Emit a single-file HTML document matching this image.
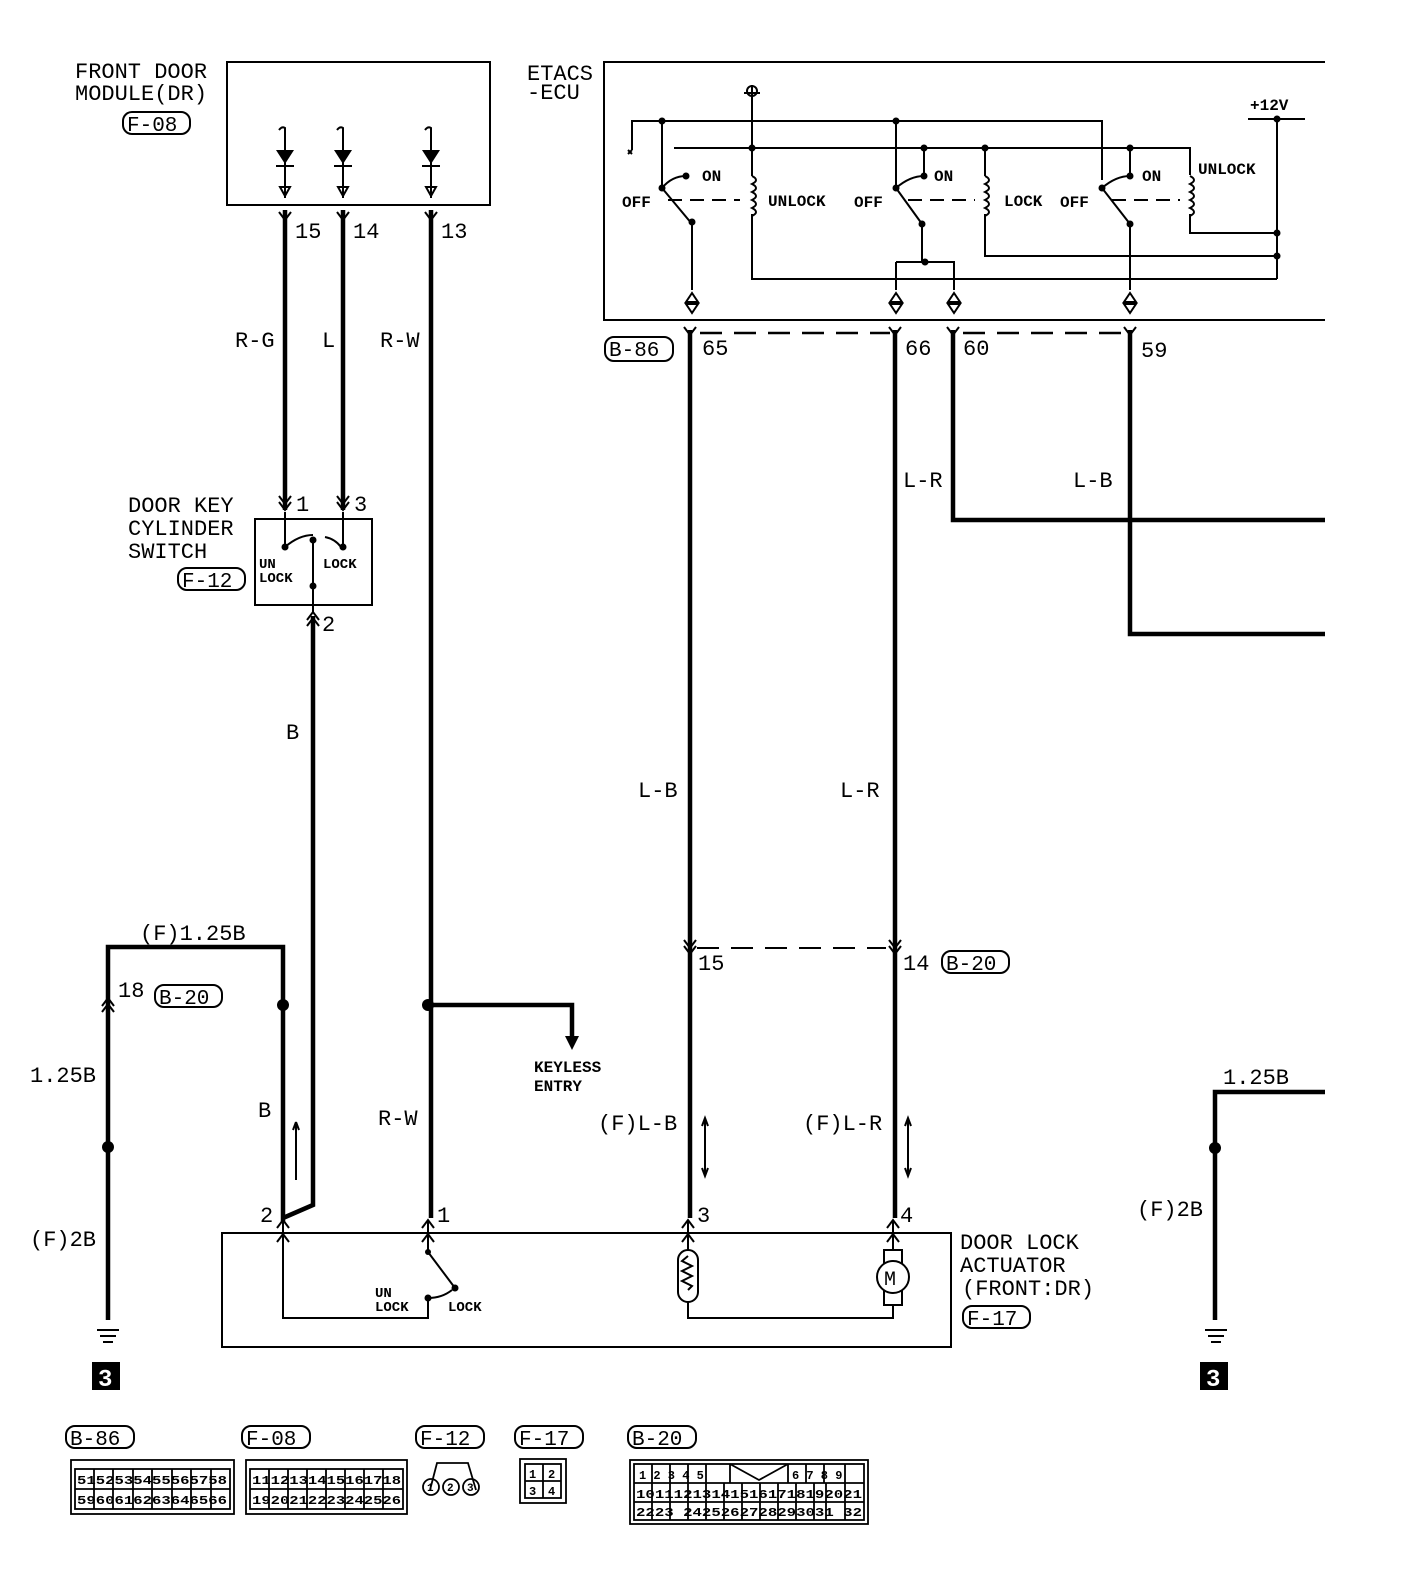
<!DOCTYPE html>
<html><head><meta charset="utf-8"><style>
html,body{margin:0;padding:0;background:#fff}
svg{display:block}
text{font-family:"Liberation Mono",monospace;fill:#000}
</style></head><body>
<svg width="1408" height="1594" viewBox="0 0 1408 1594" xmlns="http://www.w3.org/2000/svg">
<g fill="none" stroke="#000" stroke-width="2">
<rect x="227" y="62" width="263" height="143"/>
<g>
<path d="M279 130 q3 -4 6 -2 v70 M337 130 q3 -4 6 -2 v70 M425 130 q3 -4 6 -2 v70"/>
<path d="M276 166 h18 M334 166 h18 M422 166 h18"/>
<path d="M280 187 h10 l-5 9 z M338 187 h10 l-5 9 z M426 187 h10 l-5 9 z"/>
</g>
<path d="M1325 62 H604 V320 H1325"/>
<path d="M632 150 V121 H1102 V180"/>
<path d="M752 85 V148 M744 93 h16"/>
<circle cx="752" cy="91" r="5"/>
<path d="M674 148 H1037 M1037 148 H1190 V175"/>
<path d="M662 121 V188 l30 36 V290 M662 188 q10 -12 24 -12"/>
<path d="M752 148 V176 M752 214 V279 H1277"/>
<path d="M896 121 V188 l26 36 V262 M896 188 q14 -12 28 -12 M924 148 V176"/>
<path d="M896 262 H954 V290 M896 262 V290"/>
<path d="M985 148 V176 M985 214 V256 H1277"/>
<path d="M1102 188 l28 36 V290 M1102 188 q14 -12 28 -12 M1130 148 V176"/>
<path d="M1190 214 V233 H1277 M1277 119 V279 M1248 119 H1305"/>
<path d="M668 200 H740 M908 200 H975 M1112 200 H1180" stroke-dasharray="14 8"/>
<path d="M752 176 q8 4 0 8 q8 4 0 8 q8 4 0 8 q8 4 0 8 q8 4 0 8 V214"/>
<path d="M985 176 q8 4 0 8 q8 4 0 8 q8 4 0 8 q8 4 0 8 q8 4 0 8 V214"/>
<path d="M1190 176 q8 4 0 8 q8 4 0 8 q8 4 0 8 q8 4 0 8 q8 4 0 8 V214"/>
<path d="M686 302 h12 l-6 -9z M686 304 h12 l-6 9z M890 302 h12 l-6 -9z M890 304 h12 l-6 9z M948 302 h12 l-6 -9z M948 304 h12 l-6 9z M1124 302 h12 l-6 -9z M1124 304 h12 l-6 9z"/>
<path d="M628 150 l4 4 M632 150 l-4 4"/>
<path d="M700 333 H890 M963 333 H1126" stroke-dasharray="22 12" stroke-width="2.5"/>
<path d="M697 948 H886" stroke-dasharray="22 12" stroke-width="2"/>
<rect x="255" y="519" width="117" height="86"/>
<path d="M285 512 V547 M343 512 V547 M313 612 V540 M285 547 q14 -12 28 -12 M325 537 q10 2 16 10"/>
<rect x="222" y="1233" width="729" height="114"/>
<path d="M283 1220 V1318 H428 V1298 M428 1220 V1252 l27 36 M428 1298 q14 0 24 -8"/>
<path d="M688 1220 V1250 M688 1302 V1318 H893 V1305 M893 1220 V1250"/>
<rect x="678" y="1250" width="20" height="52" rx="10"/>
<path d="M688 1256 l-6 5 l10 5 l-10 5 l10 5 l-10 5 l10 5 l-4 4"/>
<rect x="884" y="1250" width="18" height="55"/>
<circle cx="893" cy="1277" r="16" fill="#fff"/>
<path d="M97 1330 h22 M100 1336 h16 M103 1342 h10 M1205 1330 h22 M1208 1336 h16 M1211 1342 h10"/>
<path d="M296 1180 V1122 M296 1122 l-3 8 M296 1122 l3 8"/>
<path d="M705 1118 V1176 M702 1126 l3 -8 l3 8 M702 1168 l3 8 l3 -8"/>
<path d="M908 1118 V1176 M905 1126 l3 -8 l3 8 M905 1168 l3 8 l3 -8"/>
</g>
<g fill="#000">
<circle cx="662" cy="121" r="3.5"/><circle cx="752" cy="148" r="3.5"/><circle cx="896" cy="121" r="3.5"/>
<circle cx="924" cy="148" r="3.5"/><circle cx="985" cy="148" r="3.5"/><circle cx="1130" cy="148" r="3.5"/>
<circle cx="1277" cy="119" r="3.5"/><circle cx="1277" cy="233" r="3.5"/><circle cx="1277" cy="256" r="3.5"/>
<circle cx="925" cy="262" r="3.5"/><circle cx="662" cy="188" r="3.5"/><circle cx="692" cy="222" r="3.5"/>
<circle cx="686" cy="176" r="3.5"/><circle cx="924" cy="176" r="3.5"/><circle cx="1130" cy="176" r="3.5"/>
<circle cx="896" cy="188" r="3.5"/><circle cx="922" cy="224" r="3.5"/><circle cx="1102" cy="188" r="3.5"/><circle cx="1130" cy="224" r="3.5"/>
<circle cx="285" cy="547" r="3.5"/><circle cx="313" cy="540" r="3.5"/><circle cx="343" cy="547" r="3.5"/><circle cx="313" cy="586" r="3.5"/>
<circle cx="283" cy="1005" r="6"/><circle cx="428" cy="1005" r="6"/><circle cx="108" cy="1147" r="6"/><circle cx="1215" cy="1148" r="6"/>
<circle cx="428" cy="1252" r="3"/><circle cx="455" cy="1288" r="3.5"/><circle cx="428" cy="1298" r="3.5"/>
<path d="M276 150 h18 l-9 14z M334 150 h18 l-9 14z M422 150 h18 l-9 14z"/>
<rect x="92" y="1362" width="28" height="28"/><rect x="1200" y="1362" width="28" height="28"/>
</g>
<g font-size="24" font-weight="bold"><text x="98" y="1386" style="fill:#fff">3</text><text x="1206" y="1386" style="fill:#fff">3</text></g>
<g fill="none" stroke="#000" stroke-width="4.5">
<path d="M285 210 V510 M343 210 V510 M431 210 V1218"/>
<path d="M313 616 V1205 L283 1218"/>
<path d="M283 1222 V947 H108 V1320"/>
<path d="M428 1005 H572 V1040"/>
<path d="M690 330 V1218 M895 330 V1218"/>
<path d="M953 330 V520 H1325 M1130 330 V634 H1325"/>
<path d="M1325 1092 H1215 V1320"/>
</g>
<path d="M565 1036 h14 l-7 14z" fill="#000"/>
<g fill="none" stroke="#000" stroke-width="2">
<path d="M279 212 l6 8 l6 -8 M337 212 l6 8 l6 -8 M425 212 l6 8 l6 -8"/>
<path d="M684 327 l6 8 l6 -8 M889 327 l6 8 l6 -8 M947 327 l6 8 l6 -8 M1124 327 l6 8 l6 -8"/>
<path d="M279 502 l6 8 l6 -8 M279 496 l6 8 l6 -8 M337 502 l6 8 l6 -8 M337 496 l6 8 l6 -8"/>
<path d="M307 620 l6 -8 l6 8 M307 626 l6 -8 l6 8"/>
<path d="M684 940 l6 8 l6 -8 M684 946 l6 8 l6 -8 M889 940 l6 8 l6 -8 M889 946 l6 8 l6 -8"/>
<path d="M102 1006 l6 -8 l6 8 M102 1012 l6 -8 l6 8"/>
<path d="M277 1228 l6 -8 l6 8 M277 1242 l6 -8 l6 8 M422 1228 l6 -8 l6 8 M422 1242 l6 -8 l6 8 M682 1228 l6 -8 l6 8 M682 1242 l6 -8 l6 8 M887 1228 l6 -8 l6 8 M887 1242 l6 -8 l6 8"/>
</g>
<g font-size="22">
<text x="75" y="78">FRONT DOOR</text><text x="75" y="100">MODULE(DR)</text>
<text x="527" y="80">ETACS</text><text x="527" y="99">-ECU</text>
<text x="295" y="238">15</text><text x="353" y="238">14</text><text x="441" y="238">13</text>
<text x="235" y="347">R-G</text><text x="322" y="347">L</text><text x="380" y="347">R-W</text>
<text x="128" y="512">DOOR KEY</text><text x="128" y="535">CYLINDER</text><text x="128" y="558">SWITCH</text>
<text x="296" y="511">1</text><text x="354" y="511">3</text><text x="322" y="631">2</text>
<text x="286" y="739">B</text>
<text x="702" y="355">65</text><text x="905" y="355">66</text><text x="963" y="355">60</text><text x="1141" y="357">59</text>
<text x="903" y="487">L-R</text><text x="1073" y="487">L-B</text>
<text x="638" y="797">L-B</text><text x="840" y="797">L-R</text>
<text x="698" y="970">15</text><text x="903" y="970">14</text>
<text x="140" y="940">(F)1.25B</text><text x="118" y="997">18</text>
<text x="30" y="1082">1.25B</text><text x="30" y="1246">(F)2B</text>
<text x="258" y="1117">B</text><text x="378" y="1125">R-W</text>
<text x="598" y="1130">(F)L-B</text><text x="803" y="1130">(F)L-R</text>
<text x="260" y="1222">2</text><text x="437" y="1222">1</text><text x="697" y="1222">3</text><text x="900" y="1222">4</text>
<text x="960" y="1249">DOOR LOCK</text><text x="960" y="1272">ACTUATOR</text><text x="962" y="1295">(FRONT:DR)</text>
<text x="1223" y="1084">1.25B</text><text x="1137" y="1216">(F)2B</text>
<text x="884" y="1285" font-size="20">M</text>
</g>
<g font-size="16" font-weight="bold">
<text x="702" y="181">ON</text><text x="622" y="207">OFF</text><text x="768" y="206">UNLOCK</text>
<text x="934" y="181">ON</text><text x="854" y="207">OFF</text><text x="1004" y="206">LOCK</text><text x="1060" y="207">OFF</text>
<text x="1142" y="181">ON</text><text x="1198" y="174">UNLOCK</text><text x="1250" y="110">+12V</text>
<text x="259" y="568" font-size="14">UN</text><text x="259" y="582" font-size="14">LOCK</text><text x="323" y="568" font-size="14">LOCK</text>
<text x="375" y="1297" font-size="14">UN</text><text x="375" y="1311" font-size="14">LOCK</text><text x="448" y="1311" font-size="14">LOCK</text>
<text x="534" y="1072" font-size="16">KEYLESS</text><text x="534" y="1091" font-size="16">ENTRY</text>
</g>
<g fill="none" stroke="#000" stroke-width="2">
<rect x="123" y="112" width="67" height="22" rx="9"/>
<rect x="178" y="568" width="67" height="22" rx="9"/>
<rect x="605" y="337" width="68" height="24" rx="9"/>
<rect x="155" y="985" width="67" height="22" rx="9"/>
<rect x="942" y="951" width="67" height="22" rx="9"/>
<rect x="963" y="1306" width="67" height="22" rx="9"/>
<rect x="66" y="1426" width="68" height="22" rx="9"/>
<rect x="242" y="1426" width="68" height="22" rx="9"/>
<rect x="416" y="1426" width="68" height="22" rx="9"/>
<rect x="515" y="1426" width="68" height="22" rx="9"/>
<rect x="628" y="1426" width="68" height="22" rx="9"/>
</g>
<g font-size="21">
<text x="127" y="131">F-08</text><text x="182" y="587">F-12</text><text x="609" y="356">B-86</text>
<text x="159" y="1004">B-20</text><text x="946" y="970">B-20</text><text x="967" y="1325">F-17</text>
<text x="70" y="1445">B-86</text><text x="246" y="1445">F-08</text><text x="420" y="1445">F-12</text><text x="519" y="1445">F-17</text><text x="632" y="1445">B-20</text>
</g>
<g fill="none" stroke="#000" stroke-width="1.8">
<rect x="71" y="1460" width="163" height="54"/>
<rect x="75" y="1469" width="155" height="40"/><path d="M75 1489 H230"/>
<path d="M94 1469 V1509 M113 1469 V1509 M133 1469 V1509 M152 1469 V1509 M172 1469 V1509 M191 1469 V1509 M211 1469 V1509"/>
<rect x="246" y="1460" width="161" height="54"/>
<rect x="250" y="1469" width="153" height="40"/><path d="M250 1489 H403"/>
<path d="M269 1469 V1509 M288 1469 V1509 M307 1469 V1509 M326 1469 V1509 M345 1469 V1509 M364 1469 V1509 M383 1469 V1509"/>
<path d="M430 1490 L437 1463 H468 L476 1490"/>
<circle cx="431" cy="1487" r="8"/><circle cx="451" cy="1487" r="8"/><circle cx="471" cy="1487" r="8"/>
<rect x="520" y="1459" width="46" height="44"/><rect x="525" y="1464" width="36" height="34"/>
<path d="M543 1464 V1498 M525 1481 H561"/>
<rect x="630" y="1460" width="238" height="64"/>
<rect x="634" y="1464" width="230" height="56"/><path d="M634 1483 H864 M634 1502 H864"/>
<path d="M652 1464 V1483 M670 1464 V1483 M688 1464 V1483 M706 1464 V1483 M730 1464 V1483 M788 1464 V1483 M806 1464 V1483 M824 1464 V1483 M845 1464 V1483 M730 1464 L759 1480 L788 1464"/>
<path d="M652 1483 V1520 M670 1483 V1520 M688 1483 V1520 M706 1483 V1520 M724 1483 V1520 M742 1483 V1520 M760 1483 V1520 M778 1483 V1520 M796 1483 V1520 M814 1483 V1520 M826 1483 V1520 M845 1483 V1520"/>
</g>
<g font-size="12" font-weight="bold">
<text x="77" y="1484" textLength="150" lengthAdjust="spacingAndGlyphs">5152535455565758</text>
<text x="77" y="1504" textLength="150" lengthAdjust="spacingAndGlyphs">5960616263646566</text>
<text x="252" y="1484" textLength="149" lengthAdjust="spacingAndGlyphs">1112131415161718</text>
<text x="252" y="1504" textLength="149" lengthAdjust="spacingAndGlyphs">1920212223242526</text>
<text x="427" y="1491" font-size="11">1</text><text x="447" y="1491" font-size="11">2</text><text x="467" y="1491" font-size="11">3</text>
<text x="529" y="1478">1</text><text x="548" y="1478">2</text><text x="529" y="1495">3</text><text x="548" y="1495">4</text>
<text x="639" y="1479">1  2  3  4  5</text><text x="792" y="1479">6  7  8  9</text>
<text x="636" y="1498" textLength="226" lengthAdjust="spacingAndGlyphs">101112131415161718192021</text>
<text x="636" y="1516" textLength="226" lengthAdjust="spacingAndGlyphs">2223 2425262728293031 32</text>
</g>
</svg>
</body></html>
